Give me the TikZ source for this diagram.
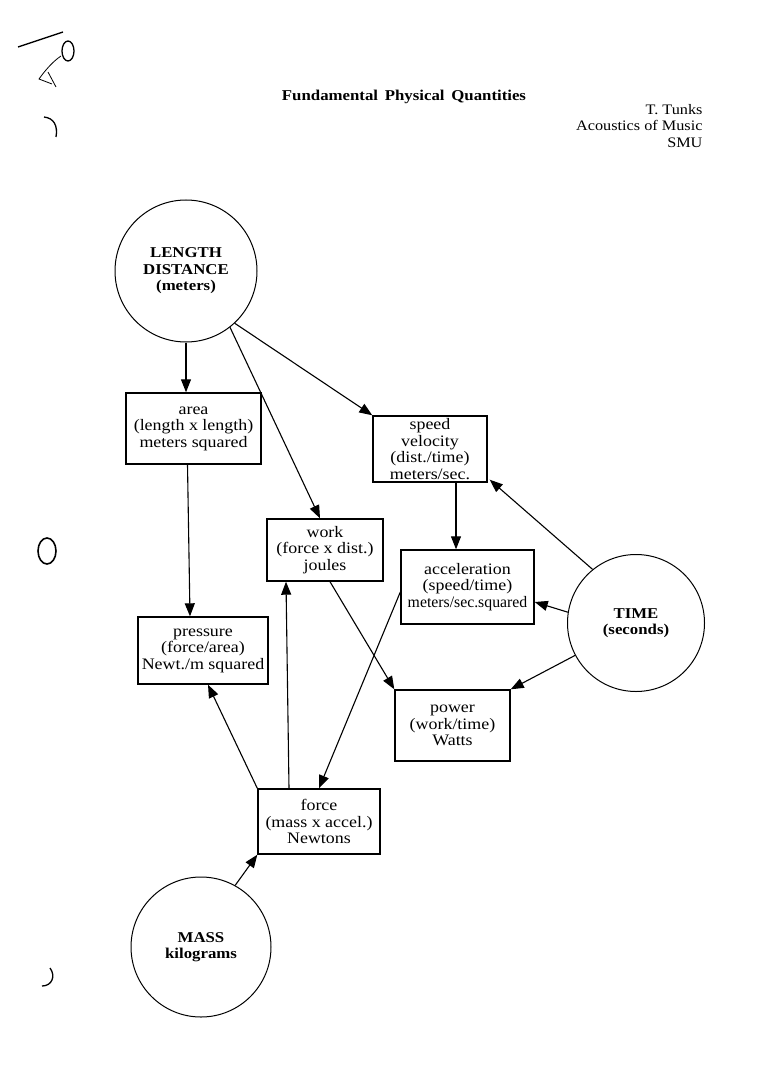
\documentclass[tikz,border=0pt]{standalone}
\usepackage{fontspec}
\setmainfont{Liberation Serif}[FakeStretch=1.12]
\usetikzlibrary{arrows.meta}
\begin{document}
\begin{tikzpicture}[x=1pt,y=-1pt,
  box/.style={draw,line width=1.4pt,inner sep=0pt,align=center,font=\fontsize{16}{16.5}\selectfont},
  qty/.style={draw,circle,line width=1.0pt,inner sep=0pt,align=center,font=\bfseries\fontsize{15}{16.5}\selectfont},
  arr/.style={line width=1.1pt,-{Triangle[length=13pt,width=10pt]}},
  scanmark/.style={line width=1.3pt}]
\useasboundingbox (0,0) rectangle (760,1075);
% scan marks
\draw[scanmark] (18,47) -- (63,32);
\draw[scanmark] (68,51) ellipse [x radius=6, y radius=10];
\draw[line width=0.8pt] (61,56) .. controls (52,62) and (44,72) .. (39,79) -- (52,84) (48,72) -- (56,87);
\draw[scanmark] (44,117) .. controls (54,118) and (58,126) .. (56,137);
\draw[line width=1.6pt] (47,551) ellipse [x radius=9, y radius=13];
\draw[scanmark] (50,968) .. controls (56,976) and (52,986) .. (42,986);
% title
\node[font=\bfseries\fontsize{15}{16}\selectfont] (title) at (404,97) {Fundamental\hspace{0.45em}Physical\hspace{0.45em}Quantities};
\node[anchor=east,align=right,font=\fontsize{14.5}{16.5}\selectfont] (auth) at (706,126) {T. Tunks\\Acoustics of Music\\SMU};
% quantities
\node[qty,minimum size=142pt] (len) at (186,271) {LENGTH\\DISTANCE\\(meters)};
\node[qty,minimum size=137pt] (time) at (636,623) {TIME\\(seconds)};
\node[qty,minimum size=140pt] (mass) at (201,947) {MASS\\kilograms};
% boxes
\node[box,minimum width=135pt,minimum height=71pt] (area) at (193.5,428.5) {area\\(length x length)\\meters squared};
\node[box,minimum width=114pt,minimum height=66pt] (speed) at (430,449) {speed\\velocity\\(dist./time)\\meters/sec.};
\node[box,minimum width=116pt,minimum height=62pt] (work) at (325,550) {work\\(force x dist.)\\joules};
\node[box,minimum width=133pt,minimum height=74pt] (acc) at (467.5,587) {acceleration\\(speed/time)\\\scalebox{0.88}[1]{meters/sec.squared}};
\node[box,minimum width=130pt,minimum height=67pt] (press) at (203,650.5) {pressure\\(force/area)\\Newt./m squared};
\node[box,minimum width=115pt,minimum height=71pt] (power) at (452.5,725.5) {power\\(work/time)\\Watts};
\node[box,minimum width=122pt,minimum height=65pt] (force) at (319,821.5) {force\\(mass x accel.)\\Newtons};
% connectors
\draw[arr] (len.south) -- (len.south |- area.north);
\draw[arr] (len.-47) -- (speed.north west);
\draw[arr] (len.-52) -- ([xshift=-5pt]work.north);
\draw[arr] ([xshift=-6pt]area.south) -- ([xshift=-13pt]press.north);
\draw[arr] ([xshift=26pt]speed.south) -- ([xshift=-11.5pt]acc.north);
\draw[arr] (time.129) -- ([xshift=2pt,yshift=3pt]speed.south east);
\draw[arr] (time.171) -- ([yshift=-15pt]acc.east);
\draw[arr] (time.208) -- (power.north east);
\draw[arr] ([xshift=5pt]work.south) -- (power.north west);
\draw[arr] ([yshift=-5pt]acc.west) -- (force.north);
\draw[arr] ([xshift=-30pt]force.north) -- ([xshift=-39pt]work.south);
\draw[arr] (force.north west) -- ([xshift=5pt]press.south);
\draw[arr] (mass.61) -- (force.south west);
\end{tikzpicture}
\end{document}
